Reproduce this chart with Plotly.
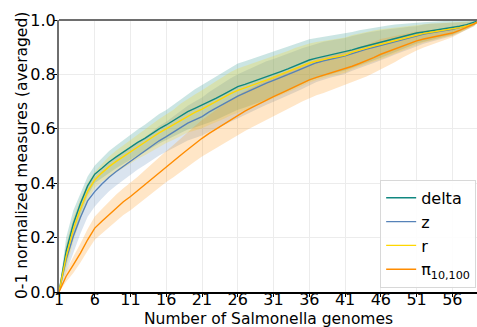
import plotly.graph_objects as go

x_vals = list(range(1, 61))
x_ticks = [1, 6, 11, 16, 21, 26, 31, 36, 41, 46, 51, 56]
y_ticks = [0.0, 0.2, 0.4, 0.6, 0.8, 1.0]

delta_mean = [0.0, 0.15, 0.25, 0.325, 0.39, 0.433, 0.455, 0.478, 0.497, 0.515,
              0.532, 0.55, 0.565, 0.583, 0.6, 0.614, 0.63, 0.648, 0.663, 0.675,
              0.687, 0.7, 0.713, 0.727, 0.742, 0.755, 0.763, 0.772, 0.782, 0.792,
              0.8, 0.81, 0.82, 0.832, 0.843, 0.853, 0.86, 0.866, 0.872, 0.877,
              0.882, 0.89, 0.898, 0.905, 0.912, 0.919, 0.926, 0.933, 0.94, 0.946,
              0.952, 0.956, 0.96, 0.964, 0.968, 0.972, 0.977, 0.983, 0.99, 1.0]
delta_std = [0.0, 0.05, 0.05, 0.04, 0.035, 0.032, 0.035, 0.04, 0.042, 0.044,
             0.045, 0.047, 0.05, 0.052, 0.054, 0.055, 0.058, 0.062, 0.066, 0.07,
             0.074, 0.077, 0.08, 0.082, 0.084, 0.085, 0.085, 0.085, 0.084, 0.084,
             0.083, 0.082, 0.081, 0.08, 0.078, 0.076, 0.074, 0.072, 0.07, 0.069,
             0.068, 0.066, 0.064, 0.062, 0.06, 0.058, 0.054, 0.05, 0.046, 0.042,
             0.038, 0.036, 0.034, 0.031, 0.028, 0.026, 0.02, 0.015, 0.01, 0.0]

z_mean = [0.0, 0.12, 0.205, 0.275, 0.335, 0.369, 0.397, 0.422, 0.443, 0.462,
          0.48, 0.5, 0.518, 0.537, 0.556, 0.571, 0.588, 0.606, 0.621, 0.633,
          0.645, 0.662, 0.677, 0.692, 0.706, 0.72, 0.732, 0.745, 0.757, 0.768,
          0.778, 0.788, 0.798, 0.81, 0.821, 0.831, 0.843, 0.85, 0.857, 0.862,
          0.868, 0.877, 0.886, 0.893, 0.9, 0.907, 0.914, 0.921, 0.928, 0.934,
          0.94, 0.948, 0.953, 0.957, 0.961, 0.966, 0.972, 0.978, 0.986, 1.0]
z_std = [0.0, 0.05, 0.06, 0.06, 0.058, 0.055, 0.053, 0.052, 0.051, 0.05,
         0.05, 0.05, 0.051, 0.052, 0.054, 0.055, 0.058, 0.061, 0.064, 0.067,
         0.07, 0.073, 0.076, 0.078, 0.08, 0.081, 0.081, 0.081, 0.08, 0.08,
         0.079, 0.078, 0.077, 0.076, 0.075, 0.073, 0.071, 0.07, 0.068, 0.067,
         0.066, 0.064, 0.062, 0.06, 0.058, 0.056, 0.052, 0.048, 0.045, 0.041,
         0.037, 0.035, 0.033, 0.03, 0.027, 0.025, 0.02, 0.015, 0.01, 0.0]

r_mean = [0.0, 0.13, 0.23, 0.305, 0.37, 0.412, 0.438, 0.461, 0.48, 0.498,
          0.516, 0.535, 0.55, 0.568, 0.585, 0.6, 0.615, 0.633, 0.648, 0.66,
          0.672, 0.687, 0.7, 0.714, 0.729, 0.741, 0.75, 0.759, 0.769, 0.779,
          0.789, 0.799, 0.809, 0.821, 0.831, 0.842, 0.849, 0.855, 0.861, 0.866,
          0.871, 0.882, 0.89, 0.897, 0.904, 0.911, 0.918, 0.925, 0.932, 0.938,
          0.944, 0.951, 0.955, 0.959, 0.963, 0.967, 0.972, 0.978, 0.986, 1.0]
r_std = [0.0, 0.045, 0.045, 0.038, 0.033, 0.03, 0.033, 0.037, 0.04, 0.042,
         0.043, 0.045, 0.047, 0.049, 0.051, 0.052, 0.055, 0.059, 0.062, 0.066,
         0.07, 0.073, 0.076, 0.078, 0.08, 0.081, 0.081, 0.081, 0.08, 0.08,
         0.079, 0.078, 0.077, 0.076, 0.074, 0.072, 0.07, 0.068, 0.067, 0.066,
         0.065, 0.063, 0.061, 0.059, 0.057, 0.055, 0.051, 0.047, 0.044, 0.04,
         0.036, 0.034, 0.032, 0.029, 0.026, 0.024, 0.019, 0.014, 0.009, 0.0]

pi_mean = [0.0, 0.058, 0.1, 0.143, 0.192, 0.235, 0.26, 0.285, 0.31, 0.332,
           0.351, 0.373, 0.395, 0.418, 0.44, 0.461, 0.481, 0.503, 0.524, 0.545,
           0.565, 0.583, 0.6, 0.617, 0.634, 0.651, 0.665, 0.679, 0.693, 0.706,
           0.718, 0.73, 0.743, 0.756, 0.768, 0.78, 0.789, 0.797, 0.805, 0.813,
           0.821, 0.83, 0.84, 0.85, 0.862, 0.874, 0.884, 0.894, 0.904, 0.914,
           0.923, 0.93, 0.936, 0.942, 0.947, 0.952, 0.962, 0.973, 0.985, 1.0]
pi_std = [0.0, 0.02, 0.03, 0.035, 0.04, 0.043, 0.045, 0.047, 0.048, 0.049,
          0.05, 0.051, 0.053, 0.054, 0.055, 0.057, 0.059, 0.061, 0.063, 0.065,
          0.067, 0.069, 0.07, 0.071, 0.072, 0.073, 0.073, 0.073, 0.073, 0.072,
          0.072, 0.071, 0.07, 0.069, 0.068, 0.067, 0.066, 0.065, 0.063, 0.062,
          0.061, 0.06, 0.059, 0.058, 0.057, 0.056, 0.052, 0.048, 0.043, 0.039,
          0.035, 0.031, 0.027, 0.023, 0.019, 0.015, 0.012, 0.009, 0.006, 0.0]

x_title = "Number of Salmonella genomes"
y_title = "0-1 normalized measures (averaged)"

series = [
    ("delta", delta_mean, delta_std, (16, 135, 128)),
    ("z", z_mean, z_std, (86, 130, 184)),
    ("r", r_mean, r_std, (255, 215, 0)),
    ("π<sub>10,100</sub>", pi_mean, pi_std, (255, 140, 0)),
]

fig = go.Figure()
for name, m, s, c in series:
    up = [a + b for a, b in zip(m, s)]
    lo = [a - b for a, b in zip(m, s)]
    fig.add_trace(go.Scatter(x=x_vals, y=up, mode="lines", line=dict(width=0),
                             showlegend=False, hoverinfo="skip"))
    fig.add_trace(go.Scatter(x=x_vals, y=lo, mode="lines", line=dict(width=0),
                             fill="tonexty",
                             fillcolor="rgba(%d,%d,%d,0.22)" % c,
                             showlegend=False, hoverinfo="skip"))
for name, m, s, c in series:
    fig.add_trace(go.Scatter(x=x_vals, y=m, mode="lines", name=name,
                             line=dict(color="rgb(%d,%d,%d)" % c, width=1.4)))

font = "DejaVu Sans, sans-serif"
fig.update_layout(
    width=477, height=327,
    margin=dict(l=59, r=0, t=20, b=35),
    plot_bgcolor="white", paper_bgcolor="white",
    font=dict(family=font, size=16, color="black"),
    showlegend=True,
    legend=dict(x=0.998, y=0.015, xanchor="right", yanchor="bottom",
                traceorder="normal",
                bgcolor="rgba(255,255,255,0.9)", bordercolor="#d8d8d8",
                borderwidth=1, font=dict(size=16, family=font),
                tracegroupgap=0, itemwidth=30),
    xaxis=dict(range=[1, 59.45], tickvals=x_ticks, showgrid=True,
               gridcolor="#ececec", gridwidth=1, zeroline=False,
               showline=True, linecolor="black", linewidth=1.5,
               ticks="outside", ticklen=3, tickcolor="black",
               tickfont=dict(size=16), automargin=False,
               ticklabelstandoff=-11),
    yaxis=dict(range=[0, 1], tickvals=y_ticks, tickformat=".1f", showgrid=True,
               gridcolor="#ececec", gridwidth=1, zeroline=False,
               showline=True, linecolor="#6e6e6e", linewidth=2,
               ticks="outside", ticklen=3, tickcolor="black",
               tickfont=dict(size=16), automargin=False,
               ticklabelstandoff=-5),
)
fig.add_shape(type="line", xref="paper", yref="paper", x0=0, x1=1, y0=1, y1=1,
              line=dict(color="#6e6e6e", width=2))
fig.add_annotation(text=x_title, xref="paper", yref="paper", x=0.5, y=0,
                   xanchor="center", yanchor="middle", yshift=-27,
                   showarrow=False, font=dict(size=15.5))
fig.add_annotation(text=y_title, xref="paper", yref="paper", x=0, y=0.5,
                   xanchor="center", yanchor="middle", xshift=-37, textangle=-90,
                   showarrow=False, font=dict(size=15.5))

fig.write_html("out.html")
